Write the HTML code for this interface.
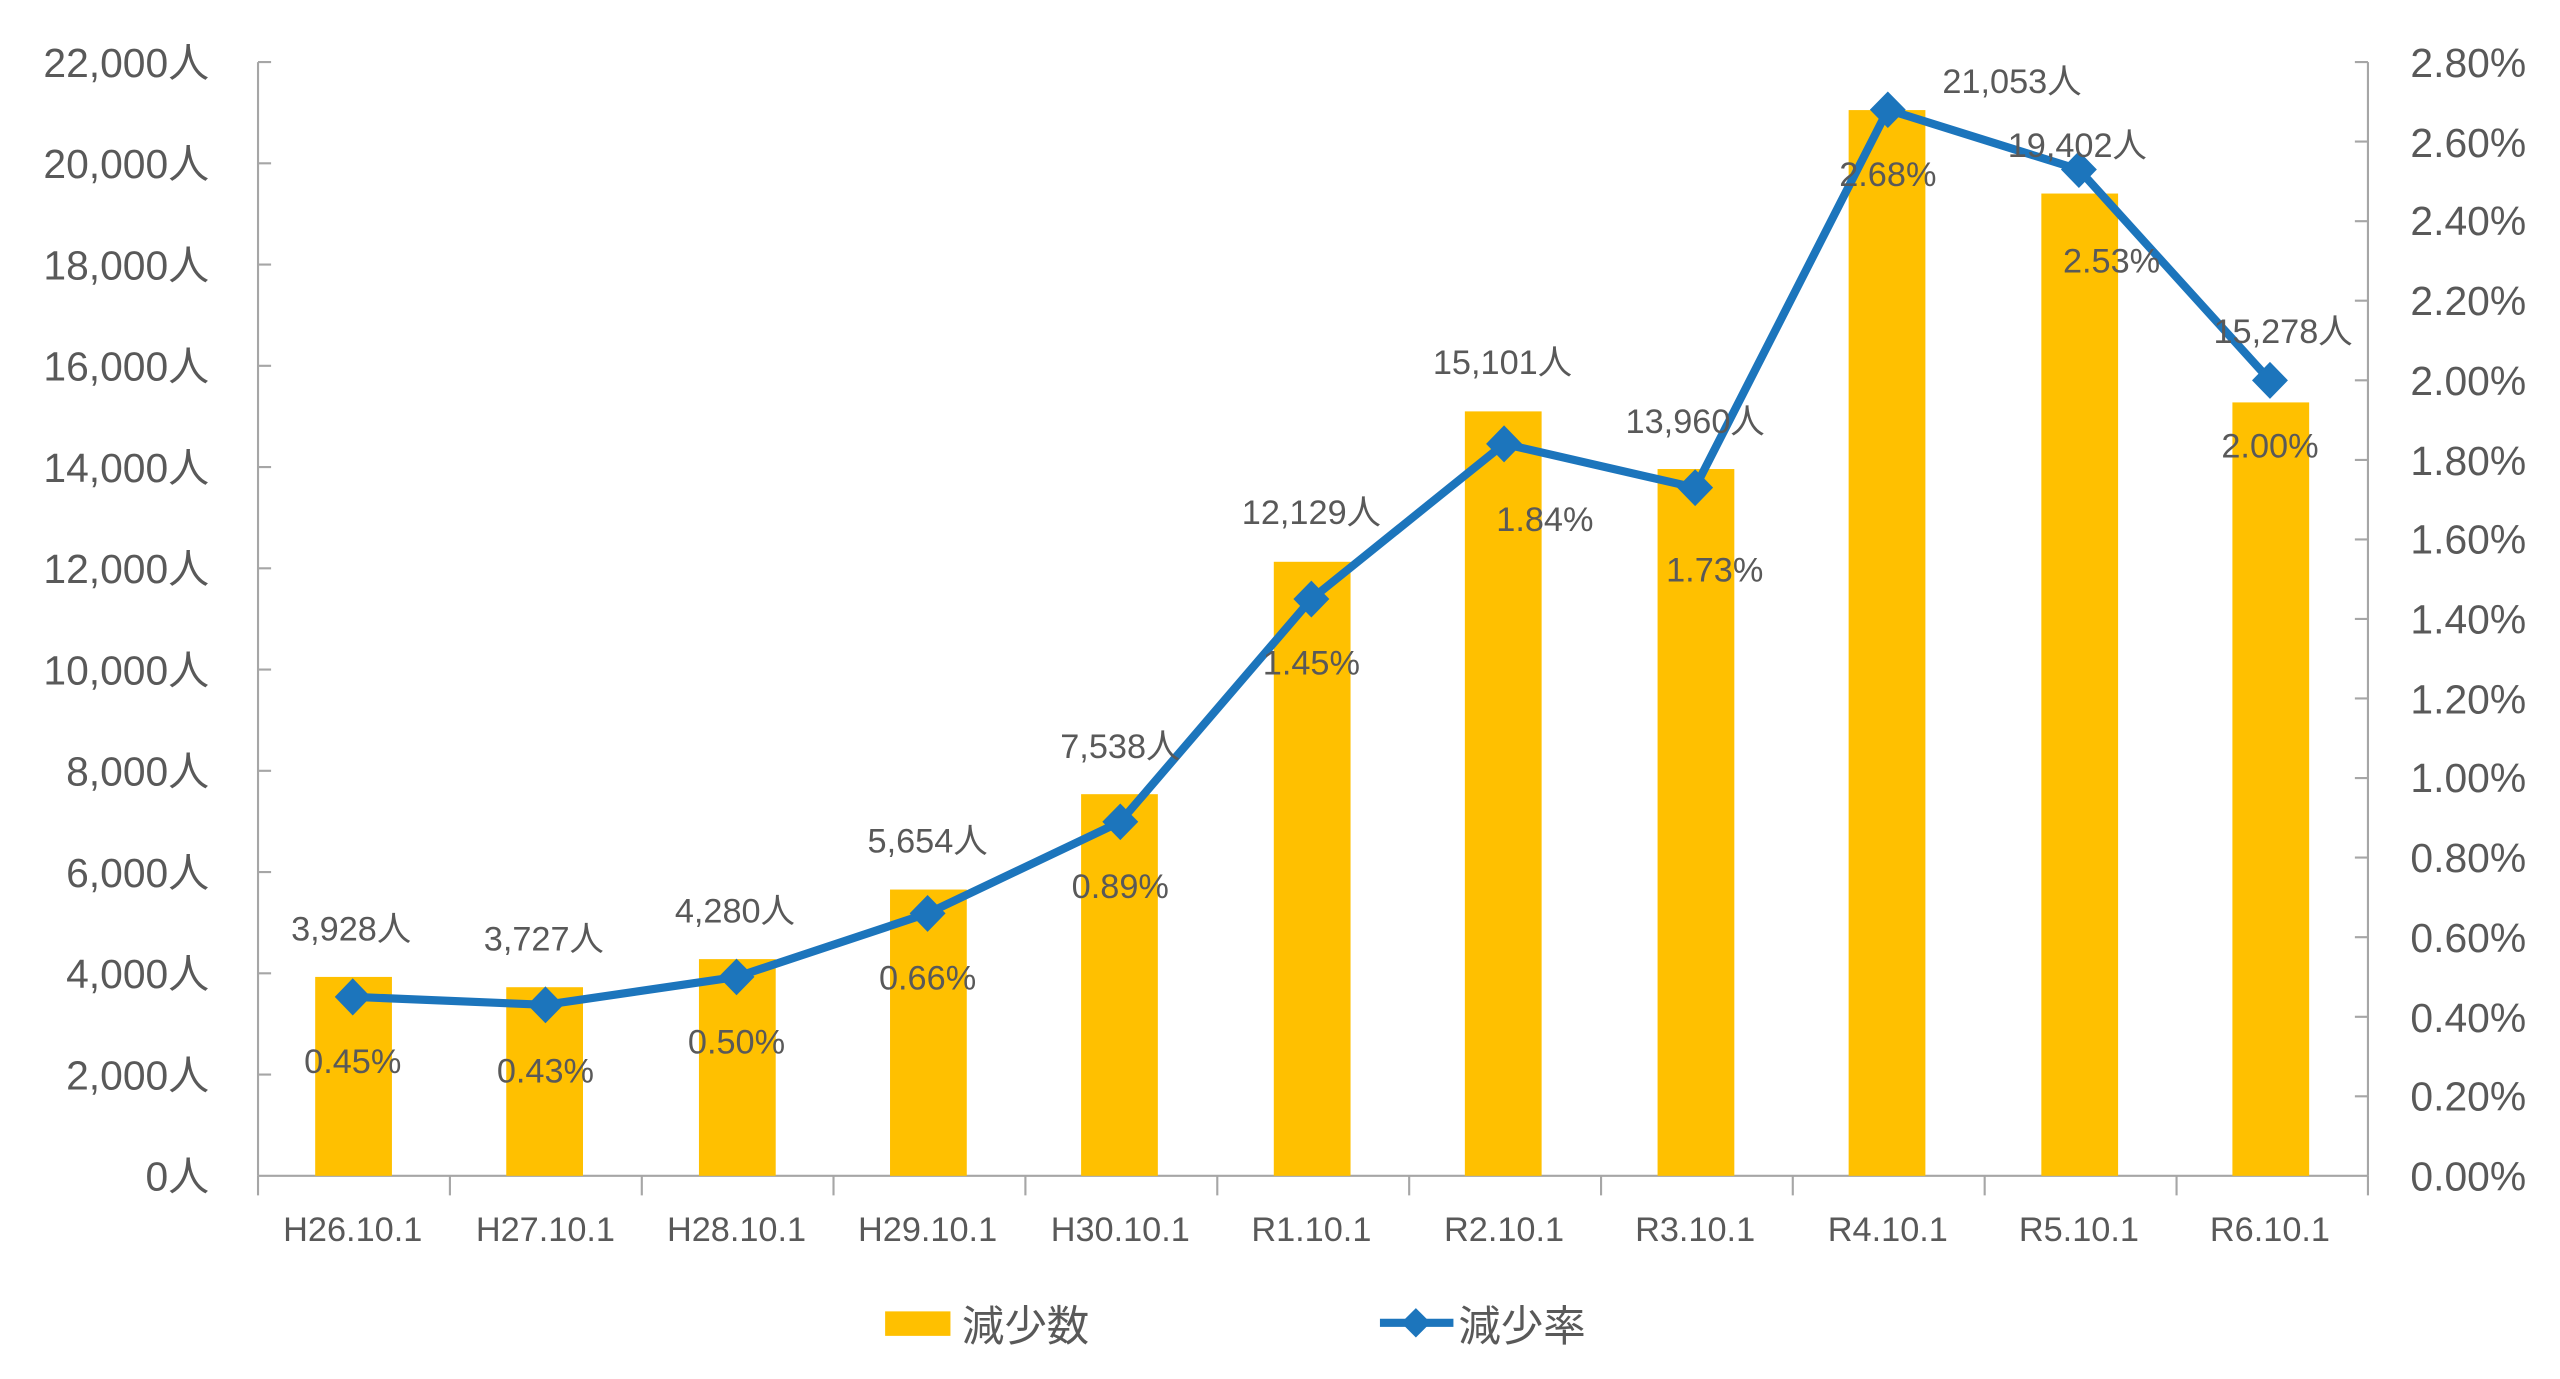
<!DOCTYPE html>
<html><head><meta charset="utf-8"><style>html,body{margin:0;padding:0;background:#fff}svg{display:block}</style></head>
<body>
<svg width="2560" height="1379" viewBox="0 0 1567.6 844.4" xmlns="http://www.w3.org/2000/svg" font-family="'Liberation Sans','Noto Sans CJK JP',sans-serif" fill="#595959">
<rect width="1567.6" height="844.4" fill="#fff"/>
<g stroke="#a6a6a6" stroke-width="1.3" fill="none">
<line x1="158" y1="38" x2="158" y2="720"/>
<line x1="1450" y1="38" x2="1450" y2="720"/>
<line x1="158" y1="720" x2="1450" y2="720"/>
<path d="M158 38h8M158 100h8M158 162h8M158 224h8M158 286h8M158 348h8M158 410h8M158 472h8M158 534h8M158 596h8M158 658h8"/>
<path d="M1450 38h-8M1450 86.7h-8M1450 135.4h-8M1450 184.1h-8M1450 232.9h-8M1450 281.6h-8M1450 330.3h-8M1450 379h-8M1450 427.7h-8M1450 476.4h-8M1450 525.1h-8M1450 573.9h-8M1450 622.6h-8M1450 671.3h-8"/>
<path d="M158 720v12M275.5 720v12M393 720v12M510.4 720v12M627.9 720v12M745.4 720v12M862.9 720v12M980.4 720v12M1097.8 720v12M1215.3 720v12M1332.8 720v12M1450 720v12"/>
</g>
<g font-size="25" text-anchor="end">
<text x="128" y="47">22,000人</text><text x="128" y="109">20,000人</text><text x="128" y="171">18,000人</text><text x="128" y="233">16,000人</text><text x="128" y="295">14,000人</text><text x="128" y="357">12,000人</text><text x="128" y="419">10,000人</text><text x="128" y="481">8,000人</text><text x="128" y="543">6,000人</text><text x="128" y="605">4,000人</text><text x="128" y="667">2,000人</text><text x="128" y="729">0人</text>
</g>
<g font-size="25">
<text x="1476" y="47">2.80%</text><text x="1476" y="96">2.60%</text><text x="1476" y="144">2.40%</text><text x="1476" y="193">2.20%</text><text x="1476" y="242">2.00%</text><text x="1476" y="291">1.80%</text><text x="1476" y="339">1.60%</text><text x="1476" y="388">1.40%</text><text x="1476" y="437">1.20%</text><text x="1476" y="485">1.00%</text><text x="1476" y="534">0.80%</text><text x="1476" y="583">0.60%</text><text x="1476" y="632">0.40%</text><text x="1476" y="680">0.20%</text><text x="1476" y="729">0.00%</text>
</g>
<g fill="#FFC000">
<rect x="193" y="598.2" width="47" height="121.8"/>
<rect x="310" y="604.5" width="47" height="115.5"/>
<rect x="428" y="587.3" width="47" height="132.7"/>
<rect x="545" y="544.7" width="47" height="175.3"/>
<rect x="662" y="486.3" width="47" height="233.7"/>
<rect x="780" y="344" width="47" height="376"/>
<rect x="897" y="251.9" width="47" height="468.1"/>
<rect x="1015" y="287.2" width="47" height="432.8"/>
<rect x="1132" y="67.4" width="47" height="652.6"/>
<rect x="1250" y="118.5" width="47" height="601.5"/>
<rect x="1367" y="246.4" width="47" height="473.6"/>
</g>
<polyline fill="none" stroke="#1C75BC" stroke-width="5" stroke-linejoin="round" points="216,610.4 334,615.3 451,598.2 568,559.3 686,503.2 803,366.8 921,271.8 1038,298.6 1156,67.2 1273,103.8 1390,232.9"/>
<g fill="#1C75BC">
<path d="M216 599l11 11.4-11 11.4-11-11.4z"/><path d="M334 604l11 11.3-11 11.3-11-11.3z"/><path d="M451 587l11 11.2-11 11.2-11-11.2z"/><path d="M568 548l11 11.3-11 11.3-11-11.3z"/><path d="M686 492l11 11.2-11 11.2-11-11.2z"/><path d="M803 355.5l11 11.3-11 11.3-11-11.3z"/><path d="M921 260.5l11 11.3-11 11.3-11-11.3z"/><path d="M1038 287.3l11 11.3-11 11.3-11-11.3z"/><path d="M1156 56l11 11.2-11 11.2-11-11.2z"/><path d="M1273 92.5l11 11.3-11 11.3-11-11.3z"/><path d="M1390 221.6l11 11.3-11 11.3-11-11.3z"/>
</g>
<g font-size="21" text-anchor="middle">
<text x="215" y="576">3,928人</text><text x="333" y="582">3,727人</text><text x="450" y="565">4,280人</text><text x="568" y="522">5,654人</text><text x="686" y="464">7,538人</text><text x="803" y="321">12,129人</text><text x="920" y="229">15,101人</text><text x="1038" y="265">13,960人</text><text x="1232" y="57">21,053人</text><text x="1272" y="96">19,402人</text><text x="1398" y="210">15,278人</text>
<text x="216" y="657">0.45%</text><text x="334" y="663">0.43%</text><text x="451" y="645">0.50%</text><text x="568" y="606">0.66%</text><text x="686" y="550">0.89%</text><text x="803" y="413">1.45%</text><text x="946" y="325">1.84%</text><text x="1050" y="356">1.73%</text><text x="1156" y="114">2.68%</text><text x="1293" y="167">2.53%</text><text x="1390" y="280">2.00%</text>
<text x="216" y="760">H26.10.1</text><text x="334" y="760">H27.10.1</text><text x="451" y="760">H28.10.1</text><text x="568" y="760">H29.10.1</text><text x="686" y="760">H30.10.1</text><text x="803" y="760">R1.10.1</text><text x="921" y="760">R2.10.1</text><text x="1038" y="760">R3.10.1</text><text x="1156" y="760">R4.10.1</text><text x="1273" y="760">R5.10.1</text><text x="1390" y="760">R6.10.1</text>
</g>
<rect x="542" y="803" width="40" height="15" fill="#FFC000"/>
<text x="589" y="821" font-size="26">減少数</text>
<line x1="845" y1="810" x2="890" y2="810" stroke="#1C75BC" stroke-width="5"/>
<path d="M867 801l9 9-9 9-9-9z" fill="#1C75BC"/>
<text x="893" y="821" font-size="26">減少率</text>
</svg>
</body></html>
